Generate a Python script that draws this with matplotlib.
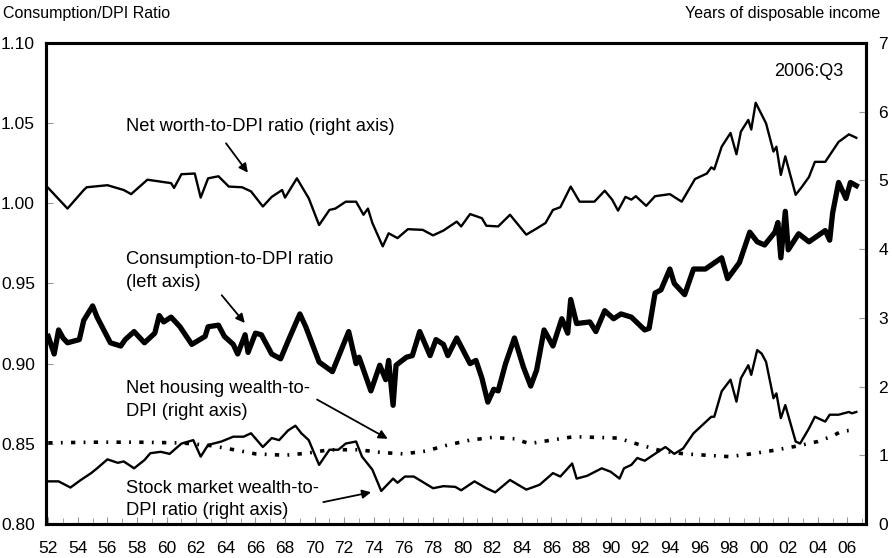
import numpy as np
import matplotlib
matplotlib.use('Agg')
import matplotlib.pyplot as plt
from matplotlib.ticker import MultipleLocator, FuncFormatter

plt.rcParams['font.family'] = ['Liberation Sans', 'DejaVu Sans']

# consumption-to-DPI ratio (left axis)
cons_year = [1952.0, 1952.4, 1952.7, 1953.0, 1953.3, 1954.1, 1954.4, 1955.0, 1955.3, 1956.2,
             1956.9, 1957.2, 1957.8, 1958.5, 1959.2, 1959.5, 1959.8, 1960.3, 1960.9, 1961.7,
             1962.6, 1962.8, 1963.5, 1963.9, 1964.5, 1964.8, 1965.3, 1965.5, 1966.0, 1966.4,
             1967.1, 1967.7, 1968.2, 1969.0, 1969.4, 1970.3, 1971.2, 1972.3, 1972.8, 1973.0,
             1973.8, 1974.4, 1974.8, 1975.0, 1975.3, 1975.5, 1976.2, 1976.6, 1977.1, 1977.8,
             1978.2, 1978.7, 1979.0, 1979.6, 1980.5, 1980.9, 1981.3, 1981.7, 1982.1, 1982.4,
             1982.9, 1983.5, 1984.1, 1984.6, 1985.0, 1985.5, 1986.1, 1986.7, 1987.1, 1987.3,
             1987.7, 1988.6, 1989.0, 1989.6, 1990.2, 1990.7, 1991.4, 1992.3, 1992.6, 1993.0,
             1993.4, 1994.0, 1994.3, 1995.0, 1995.6, 1996.4, 1997.5, 1997.9, 1998.7, 1999.4,
             1999.9, 2000.4, 2001.1, 2001.3, 2001.5, 2001.8, 2002.0, 2002.7, 2003.4, 2004.5,
             2004.8, 2005.0, 2005.4, 2005.9, 2006.2, 2006.6]
cons_ratio = [0.917, 0.906, 0.921, 0.916, 0.913, 0.915, 0.927, 0.936, 0.929, 0.913,
              0.911, 0.915, 0.920, 0.913, 0.919, 0.930, 0.926, 0.929, 0.923, 0.912,
              0.917, 0.923, 0.924, 0.917, 0.912, 0.906, 0.918, 0.907, 0.919, 0.918,
              0.906, 0.903, 0.914, 0.931, 0.923, 0.901, 0.895, 0.920, 0.900, 0.904,
              0.883, 0.899, 0.890, 0.902, 0.874, 0.899, 0.904, 0.905, 0.920, 0.905,
              0.915, 0.912, 0.905, 0.916, 0.900, 0.902, 0.891, 0.876, 0.884, 0.883,
              0.900, 0.916, 0.898, 0.886, 0.896, 0.921, 0.911, 0.928, 0.919, 0.940,
              0.925, 0.926, 0.920, 0.933, 0.928, 0.931, 0.929, 0.921, 0.922, 0.944,
              0.946, 0.959, 0.950, 0.943, 0.959, 0.959, 0.966, 0.953, 0.963, 0.982,
              0.976, 0.974, 0.982, 0.988, 0.966, 0.995, 0.971, 0.981, 0.976, 0.983,
              0.977, 0.994, 1.013, 1.003, 1.013, 1.011]

# net worth-to-DPI ratio (right axis)
nw_year = [1952.0, 1953.3, 1954.4, 1954.6, 1956.0, 1957.1, 1957.6, 1958.7, 1960.3, 1960.5,
           1961.0, 1961.9, 1962.3, 1962.8, 1963.5, 1964.2, 1965.1, 1965.7, 1966.5, 1967.1,
           1967.8, 1968.0, 1968.8, 1969.6, 1970.3, 1971.0, 1971.4, 1972.1, 1972.8, 1973.3,
           1973.6, 1973.9, 1974.6, 1975.0, 1975.6, 1976.3, 1977.3, 1978.0, 1978.7, 1979.6,
           1979.9, 1980.5, 1981.3, 1981.6, 1982.4, 1983.2, 1984.3, 1985.0, 1985.6, 1986.1,
           1986.6, 1987.3, 1987.9, 1988.9, 1989.6, 1990.1, 1990.5, 1991.0, 1991.4, 1991.7,
           1992.4, 1993.0, 1994.0, 1994.8, 1995.7, 1996.5, 1996.8, 1997.0, 1997.5, 1998.1,
           1998.5, 1998.8, 1999.3, 1999.5, 1999.8, 2000.5, 2001.0, 2001.2, 2001.5, 2001.8,
           2002.5, 2002.9, 2003.4, 2003.8, 2004.5, 2005.4, 2006.1, 2006.6]
nw_ratio = [4.89, 4.59, 4.86, 4.90, 4.93, 4.86, 4.80, 5.01, 4.96, 4.89,
            5.09, 5.10, 4.75, 5.03, 5.06, 4.91, 4.90, 4.84, 4.62, 4.76,
            4.86, 4.75, 5.03, 4.74, 4.35, 4.57, 4.59, 4.69, 4.69, 4.50,
            4.59, 4.38, 4.04, 4.23, 4.16, 4.29, 4.28, 4.20, 4.27, 4.40,
            4.33, 4.51, 4.45, 4.34, 4.33, 4.50, 4.21, 4.30, 4.38, 4.57,
            4.61, 4.91, 4.69, 4.69, 4.85, 4.72, 4.56, 4.76, 4.72, 4.77,
            4.63, 4.77, 4.80, 4.69, 5.02, 5.10, 5.19, 5.16, 5.49, 5.69,
            5.38, 5.71, 5.88, 5.74, 6.13, 5.83, 5.42, 5.49, 5.08, 5.35,
            4.79, 4.90, 5.05, 5.27, 5.27, 5.56, 5.67, 5.62]

# stock market wealth-to-DPI ratio (right axis)
stock_year = [1952.0, 1952.7, 1953.5, 1954.2, 1954.9, 1955.3, 1956.0, 1956.7, 1957.1, 1957.8,
              1958.5, 1958.9, 1959.6, 1960.2, 1961.0, 1961.8, 1962.3, 1962.8, 1963.7, 1964.5,
              1965.2, 1965.7, 1966.5, 1967.1, 1967.6, 1968.2, 1968.7, 1969.1, 1969.6, 1970.3,
              1971.0, 1971.6, 1972.1, 1972.8, 1973.2, 1973.9, 1974.5, 1975.3, 1975.6, 1976.1,
              1976.7, 1978.0, 1978.7, 1979.5, 1979.9, 1980.8, 1981.6, 1982.2, 1983.2, 1984.3,
              1985.2, 1986.1, 1986.6, 1987.4, 1987.7, 1988.4, 1989.4, 1990.0, 1990.6, 1990.9,
              1991.4, 1991.8, 1992.3, 1993.2, 1993.7, 1994.3, 1994.9, 1995.6, 1996.2, 1996.8,
              1997.0, 1997.5, 1998.1, 1998.5, 1998.8, 1999.3, 1999.5, 1999.9, 2000.2, 2000.5,
              2001.0, 2001.2, 2001.5, 2001.8, 2002.5, 2002.8, 2003.4, 2003.8, 2004.5, 2004.8,
              2005.4, 2006.1, 2006.3, 2006.6]
stock_ratio = [0.62, 0.62, 0.53, 0.64, 0.74, 0.81, 0.94, 0.89, 0.91, 0.81,
               0.93, 1.03, 1.05, 1.02, 1.17, 1.22, 0.98, 1.15, 1.20, 1.27,
               1.27, 1.32, 1.12, 1.25, 1.22, 1.36, 1.43, 1.32, 1.22, 0.86,
               1.08, 1.08, 1.17, 1.20, 0.98, 0.79, 0.48, 0.66, 0.60, 0.69,
               0.69, 0.52, 0.55, 0.54, 0.49, 0.62, 0.52, 0.46, 0.64, 0.50,
               0.57, 0.74, 0.69, 0.88, 0.66, 0.70, 0.81, 0.76, 0.66, 0.81,
               0.86, 0.96, 0.92, 1.05, 1.12, 1.02, 1.10, 1.32, 1.44, 1.56,
               1.56, 1.93, 2.10, 1.78, 2.12, 2.31, 2.17, 2.53, 2.48, 2.36,
               1.83, 1.90, 1.54, 1.73, 1.20, 1.17, 1.39, 1.56, 1.49, 1.59,
               1.59, 1.63, 1.61, 1.63]

# net housing wealth-to-DPI (right axis)
house_year = [1952.0, 1955.0, 1958.0, 1961.0, 1963.0, 1964.8, 1966.0, 1968.0, 1969.5, 1971.0,
              1973.0, 1974.5, 1976.0, 1977.5, 1979.0, 1980.5, 1982.0, 1983.5, 1984.5, 1986.0,
              1987.5, 1989.0, 1990.5, 1992.0, 1993.5, 1995.0, 1996.5, 1998.0, 1999.5, 2001.0,
              2002.5, 2004.0, 2005.0, 2005.6, 2006.6]
house_ratio = [1.18, 1.19, 1.19, 1.18, 1.14, 1.07, 1.02, 1.00, 1.03, 1.08,
               1.08, 1.04, 1.02, 1.06, 1.15, 1.22, 1.26, 1.24, 1.17, 1.22,
               1.27, 1.26, 1.25, 1.15, 1.06, 1.02, 1.00, 0.98, 1.02, 1.07,
               1.13, 1.20, 1.28, 1.35, 1.37]

fig = plt.figure(figsize=(8.92, 5.58), dpi=100)
ax = fig.add_axes([0.0516, 0.061, 0.9192, 0.862])
ax2 = ax.twinx()

ax.plot(cons_year, cons_ratio, color='black', lw=3.8, solid_joinstyle='round')
ax2.plot(nw_year, nw_ratio, color='black', lw=1.7)
ax2.plot(stock_year, stock_ratio, color='black', lw=1.7)
ax2.plot(house_year, house_ratio, color='black', lw=2.6, linestyle=(0, (1.2, 2.3, 0.5, 2.3)))

ax.set_xlim(1951.85, 2007.25)
ax.set_ylim(0.80, 1.10)
ax2.set_ylim(0, 7)

ax.set_yticks([0.80, 0.85, 0.90, 0.95, 1.00, 1.05, 1.10])
ax.yaxis.set_major_formatter(FuncFormatter(lambda v, p: f'{v:.2f}'))
ax2.set_yticks(range(0, 8))
ax.xaxis.set_major_locator(MultipleLocator(2))
ax.xaxis.set_minor_locator(MultipleLocator(1))
ax.xaxis.set_major_formatter(FuncFormatter(lambda v, p: f'{int(round(v)) % 100:02d}'))

for a in (ax, ax2):
    for s in a.spines.values():
        s.set_linewidth(2.2)
ax.tick_params(axis='both', which='both', direction='in', color='#999999', labelsize=12.5)
ax.tick_params(axis='x', which='major', length=5, pad=12)
ax.tick_params(axis='x', which='minor', length=4)
ax.tick_params(axis='y', length=5, pad=8)
ax2.tick_params(axis='y', direction='in', color='#999999', length=5, pad=9, labelsize=12.5)

fig.text(0.003, 0.975, 'Consumption/DPI Ratio', fontsize=11.5, va='center', ha='left')
fig.text(0.987, 0.975, 'Years of disposable income', fontsize=11.5, va='center', ha='right')
ax.text(0.972, 0.94, '2006:Q3', transform=ax.transAxes, fontsize=13, ha='right', va='center')

fs = 13.2
arrow = dict(arrowstyle='-|>', color='black', lw=1.3, mutation_scale=13)
ax.text(1957.25, 1.0476, 'Net worth-to-DPI ratio (right axis)', fontsize=fs, ha='left', va='center')
ax.annotate('', xy=(1965.6, 1.0177), xytext=(1963.9, 1.0388), arrowprops=arrow)
ax.text(1957.25, 0.958, 'Consumption-to-DPI ratio\n(left axis)', fontsize=fs, ha='left', va='center',
        linespacing=1.45)
ax.annotate('', xy=(1965.4, 0.924), xytext=(1963.6, 0.944), arrowprops=arrow)
ax.text(1957.25, 0.8773, 'Net housing wealth-to-\nDPI (right axis)', fontsize=fs, ha='left', va='center',
        linespacing=1.45)
ax2.annotate('', xy=(1975.1, 1.22), xytext=(1970.0, 1.83), arrowprops=arrow)
ax.text(1957.25, 0.8153, 'Stock market wealth-to-\nDPI ratio (right axis)', fontsize=fs, ha='left',
        va='center', linespacing=1.45)
ax2.annotate('', xy=(1974.0, 0.47), xytext=(1970.4, 0.31), arrowprops=arrow)

fig.savefig('out.png', dpi=100)
